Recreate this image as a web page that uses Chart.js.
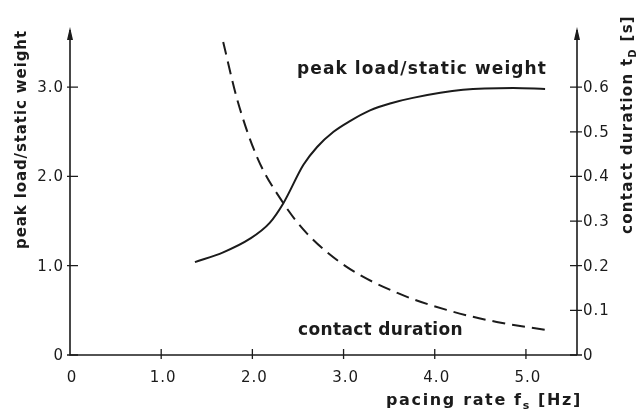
<!DOCTYPE html>
<html>
<head>
<meta charset="utf-8">
<script src="https://cdn.jsdelivr.net/npm/chart.js@4.4.1/dist/chart.umd.min.js"></script>
<style>
  html, body { margin: 0; padding: 0; background: #fff; }
  #wrap { width: 639px; height: 415px; }
</style>
</head>
<body>
<div id="wrap"><canvas id="pacingChart" width="639" height="415"></canvas></div>
<script>
// peak load / static weight vs pacing rate (left axis)
const peakRate = [1.37, 1.68, 1.97, 2.19, 2.34, 2.56, 2.71, 2.89, 3.07, 3.29, 3.52, 3.76, 4.31, 4.86, 5.21];
const peakLoad = [1.04, 1.15, 1.30, 1.48, 1.70, 2.13, 2.33, 2.50, 2.62, 2.74, 2.82, 2.88, 2.97, 2.99, 2.98];

// contact duration tD [s] vs pacing rate (right axis)
const durRate = [1.68, 1.83, 2.05, 2.34, 2.60, 3.03, 3.59, 4.13, 4.68, 5.23];
const durValue = [0.701, 0.575, 0.444, 0.340, 0.272, 0.198, 0.139, 0.101, 0.074, 0.056];

// tick labels
const xTicks = [0, 1, 2, 3, 4, 5];
const loadTicks = [0, 1, 2, 3];
const durTicks = [0, 0.1, 0.2, 0.3, 0.4, 0.5, 0.6];

const INK = '#1b1b1b';
const FONT = '"DejaVu Sans", sans-serif';

function fmt(v) { return v === 0 ? '0' : v.toFixed(1); }

// draws text runs (for subscripts) left to right, spread to a target width
function drawRuns(ctx, runs, x, y, width) {
    ctx.letterSpacing = '0px';
    let raw = 0, chars = 0;
    runs.forEach(r => {
        ctx.font = 'bold ' + r.size + 'px ' + FONT;
        raw += ctx.measureText(r.t).width;
        chars += r.t.length;
    });
    const sp = width ? Math.max(0, (width - raw) / chars) : 0;
    ctx.letterSpacing = sp + 'px';
    ctx.textAlign = 'left';
    ctx.textBaseline = 'alphabetic';
    let cx = x;
    runs.forEach(r => {
        ctx.font = 'bold ' + r.size + 'px ' + FONT;
        ctx.fillText(r.t, cx, y + (r.dy || 0));
        cx += ctx.measureText(r.t).width;
    });
    ctx.letterSpacing = '0px';
}

const axesPlugin = {
    id: 'axesPlugin',
    afterDraw(chart) {
        const ctx = chart.ctx;
        const xs = chart.scales.x, yl = chart.scales.y, yr = chart.scales.y1;
        const a = chart.chartArea;
        ctx.save();
        ctx.strokeStyle = INK;
        ctx.fillStyle = INK;
        ctx.lineWidth = 1.6;

        // axis lines
        ctx.beginPath();
        ctx.moveTo(a.left, a.top);
        ctx.lineTo(a.left, a.bottom);
        ctx.lineTo(a.right, a.bottom);
        ctx.moveTo(a.right, a.bottom);
        ctx.lineTo(a.right, a.top);
        ctx.stroke();

        // arrow heads
        [a.left, a.right].forEach(ax => {
            ctx.beginPath();
            ctx.moveTo(ax, a.top - 3);
            ctx.lineTo(ax - 3, a.top + 10);
            ctx.lineTo(ax + 3, a.top + 10);
            ctx.closePath();
            ctx.fill();
        });

        // tick marks
        ctx.lineWidth = 1.3;
        ctx.beginPath();
        loadTicks.forEach(v => {
            const py = yl.getPixelForValue(v);
            ctx.moveTo(a.left - 3, py);
            ctx.lineTo(a.left + 8, py);
        });
        durTicks.forEach(v => {
            const py = yr.getPixelForValue(v);
            ctx.moveTo(a.right - 7, py);
            ctx.lineTo(a.right + 5, py);
        });
        xTicks.forEach(v => {
            if (v === 0) return;
            const px = xs.getPixelForValue(v);
            ctx.moveTo(px, a.bottom - 6);
            ctx.lineTo(px, a.bottom + 4);
        });
        ctx.stroke();

        // tick labels
        ctx.font = '15px ' + FONT;
        ctx.letterSpacing = '1px';
        ctx.textBaseline = 'middle';
        ctx.textAlign = 'right';
        loadTicks.forEach(v => ctx.fillText(fmt(v), a.left - 6, yl.getPixelForValue(v) + 1));
        ctx.textAlign = 'left';
        durTicks.forEach(v => ctx.fillText(fmt(v), a.right + 6, yr.getPixelForValue(v) + 1));
        ctx.textAlign = 'center';
        xTicks.forEach(v => ctx.fillText(fmt(v), xs.getPixelForValue(v) + 2, a.bottom + 23));
        ctx.letterSpacing = '0px';

        // axis titles
        drawRuns(ctx, [{ t: 'pacing rate f', size: 16 }, { t: 's', size: 11, dy: 4 }, { t: ' [Hz]', size: 16 }], 386, 405, 196);

        ctx.save();
        ctx.translate(26, 249);
        ctx.rotate(-Math.PI / 2);
        drawRuns(ctx, [{ t: 'peak load/static weight', size: 15 }], 0, 0, 219);
        ctx.restore();

        ctx.save();
        ctx.translate(632, 234);
        ctx.rotate(-Math.PI / 2);
        drawRuns(ctx, [{ t: 'contact duration t', size: 15 }, { t: 'D', size: 10, dy: 4 }, { t: ' [s]', size: 15 }], 0, 0, 219);
        ctx.restore();

        // curve labels
        drawRuns(ctx, [{ t: 'peak load/static weight', size: 17 }], 297, 74, 250);
        drawRuns(ctx, [{ t: 'contact duration', size: 17 }], 298, 335, 165);

        ctx.restore();
    }
};

const ctx = document.getElementById('pacingChart').getContext('2d');
new Chart(ctx, {
    type: 'line',
    data: {
        datasets: [{
            label: 'peak load/static weight',
            data: peakRate.map((r, i) => ({ x: r, y: peakLoad[i] })),
            yAxisID: 'y',
            borderColor: INK,
            borderWidth: 2,
            pointRadius: 0,
            cubicInterpolationMode: 'monotone',
            fill: false
        }, {
            label: 'contact duration',
            data: durRate.map((r, i) => ({ x: r, y: durValue[i] })),
            yAxisID: 'y1',
            borderColor: INK,
            borderWidth: 2,
            borderDash: [13, 7],
            pointRadius: 0,
            cubicInterpolationMode: 'monotone',
            fill: false
        }]
    },
    options: {
        responsive: false,
        animation: false,
        layout: { padding: { left: 70, right: 62, top: 30, bottom: 60 } },
        plugins: { legend: { display: false }, tooltip: { enabled: false } },
        scales: {
            x: { type: 'linear', display: false, min: 0, max: 5.56 },
            y: { type: 'linear', display: false, min: 0, max: 3.64 },
            y1: { type: 'linear', display: false, min: 0, max: 0.728, position: 'right' }
        }
    },
    plugins: [axesPlugin]
});
</script>
</body>
</html>
